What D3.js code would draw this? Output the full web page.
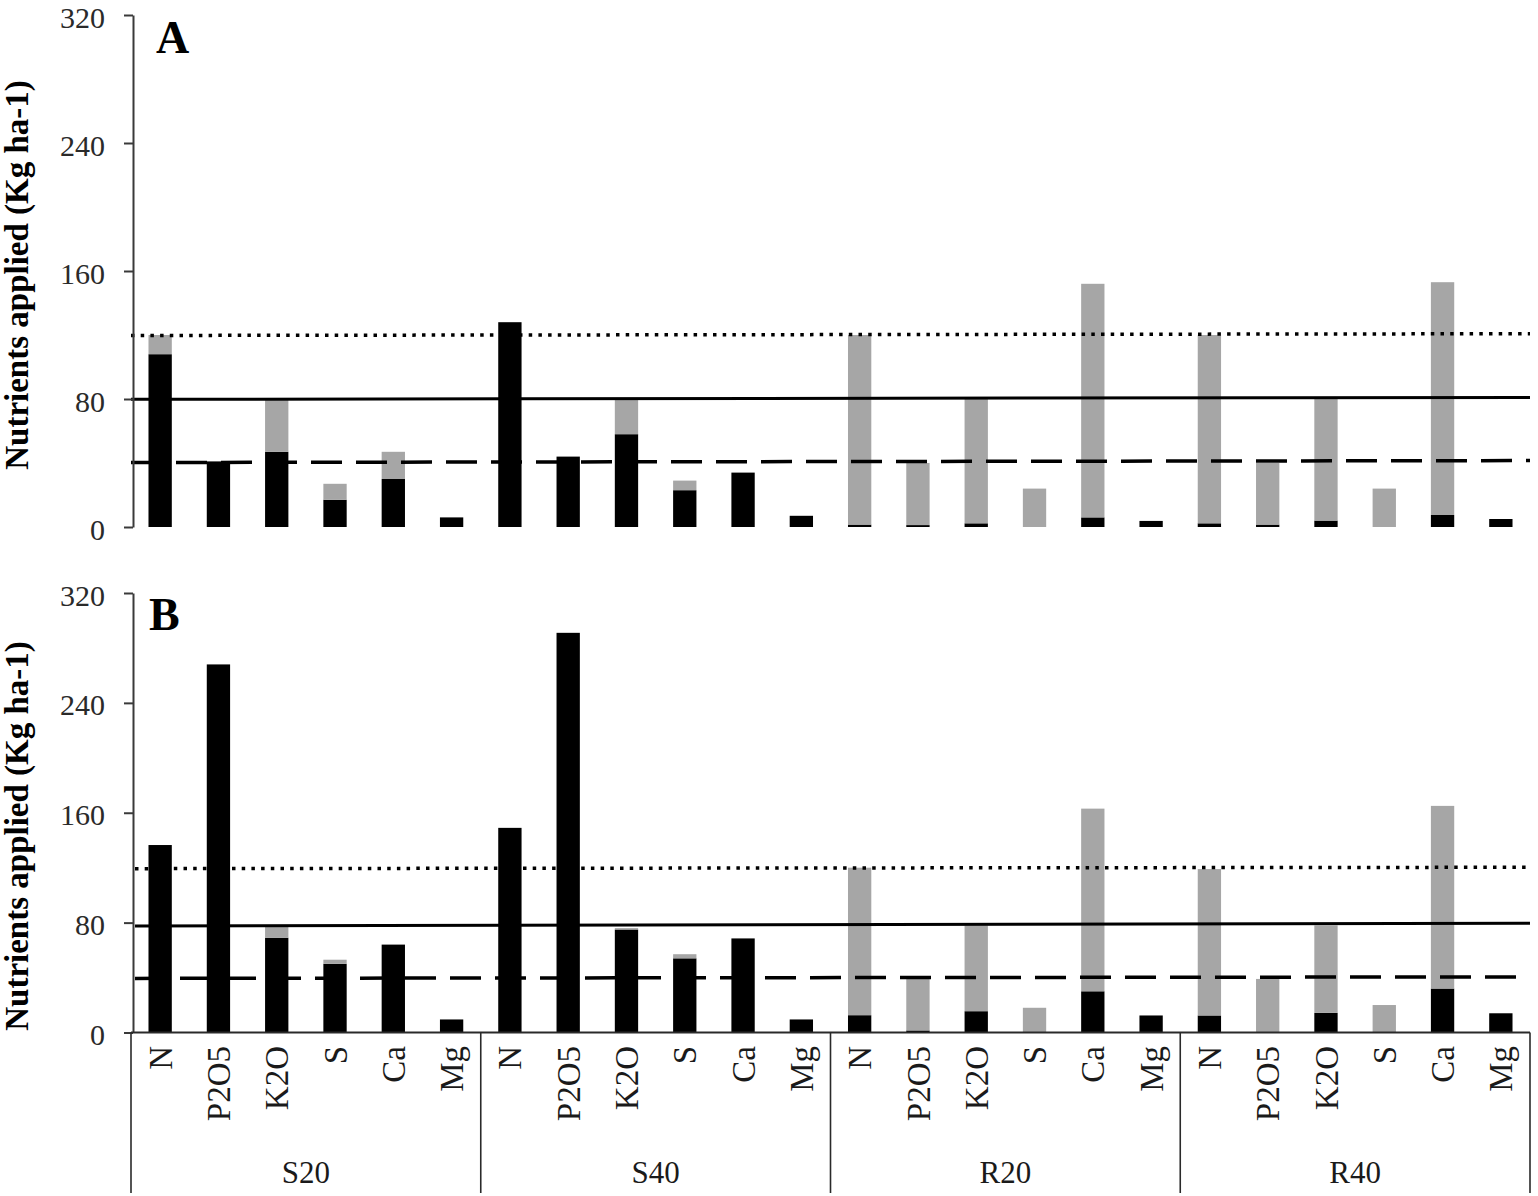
<!DOCTYPE html>
<html>
<head>
<meta charset="utf-8">
<script src="https://cdn.jsdelivr.net/npm/d3@7"></script>
<style>
  html, body { margin: 0; padding: 0; background: #fff; }
  svg { display: block; }
  text { font-family: "Liberation Serif", "Times New Roman", serif; }
</style>
</head>
<body>
<svg id="chart" width="1538" height="1196"></svg>
<script>
// ---------------- DATA ----------------
const groups = ["S20", "S40", "R20", "R40"];
const nutrients = ["N", "P2O5", "K2O", "S", "Ca", "Mg"];
const yTicks = [0, 80, 160, 240, 320];

// Panel A: black (lower) segment and total height (black + gray), per group in order N,P2O5,K2O,S,Ca,Mg
const blackA = {
  S20: [108, 41, 47, 17, 30, 6],
  S40: [128, 44, 58, 23, 34, 7],
  R20: [1.5, 1.2, 2.3, 0, 6, 3.8],
  R40: [2.3, 1.5, 4, 0, 7.5, 5]
};
const totalA = {
  S20: [120, 41, 80, 27, 47, 6],
  S40: [128, 44, 80, 29, 34, 7],
  R20: [120, 40, 80, 24, 152, 3.8],
  R40: [120, 40, 80, 24, 153, 5]
};
// Panel B
const blackB = {
  S20: [136.5, 268, 69, 50, 64, 9.5],
  S40: [149, 291, 75, 54, 68.5, 9.5],
  R20: [12.6, 1.5, 15.5, 0, 30, 12.4],
  R40: [12.4, 0, 14.3, 0, 32, 14]
};
const totalB = {
  S20: [136.5, 268, 78, 53, 64, 9.5],
  S40: [149, 291, 76, 57, 68.5, 9.5],
  R20: [120, 39, 78, 18, 163, 12.4],
  R40: [119, 39, 78, 20, 165, 14]
};
// Reference lines (value at left end, value at right end)
const refStyles = ["dotted", "solid", "dashed"];
const refA = [[119.7, 120.8], [79.8, 81], [40.3, 41.5]];
const refB = [[119.3, 120.3], [77.5, 79.6], [39.4, 40.5]];
const yTitle = "Nutrients applied (Kg ha-1)";

// ---------------- CHART ----------------
const svg = d3.select("#chart");
const keys = [];
groups.forEach(g => nutrients.forEach(n => keys.push(g + "|" + n)));

const x = d3.scaleBand().domain(keys).range([131, 1530]).paddingInner(0.6).paddingOuter(0.3);
const xGroup = d3.scaleBand().domain(groups).range([131, 1530]);

function rows(black, total) {
  const out = [];
  groups.forEach(g => nutrients.forEach((n, i) => {
    out.push({ key: g + "|" + n, base: black[g][i], extra: Math.max(0, total[g][i] - black[g][i]) });
  }));
  return out;
}

const dashFor = {
  dotted: "3.5,6.2",
  solid: null,
  dashed: "31,14"
};

function panel(cfg) {
  const y = d3.scaleLinear().domain([0, 320]).range(cfg.yRange);
  const g = svg.append("g");

  const stacked = d3.stack().keys(["base", "extra"])(rows(cfg.black, cfg.total));
  const colors = { base: "#000000", extra: "#a6a6a6" };
  g.selectAll("g.layer").data(stacked).join("g")
    .attr("class", "layer")
    .attr("fill", d => colors[d.key])
    .selectAll("rect").data(d => d).join("rect")
    .attr("x", d => x(d.data.key))
    .attr("width", x.bandwidth())
    .attr("y", d => y(d[1]))
    .attr("height", d => Math.max(0, y(d[0]) - y(d[1])));

  // reference lines
  cfg.refs.forEach((r, i) => {
    const style = refStyles[i];
    g.append("line")
      .attr("x1", cfg.refX0).attr("x2", 1530)
      .attr("y1", y(r[0])).attr("y2", y(r[1]))
      .attr("stroke", "#000")
      .attr("stroke-width", style === "solid" ? 3 : 3.5)
      .attr("stroke-dasharray", dashFor[style]);
  });

  // y axis
  const ax = g.append("g").attr("transform", "translate(133,0)")
    .call(d3.axisLeft(y).tickValues(yTicks).tickSize(9).tickSizeOuter(0).tickPadding(19));
  ax.select(".domain").attr("stroke", "#3a3a3a").attr("stroke-width", 2);
  ax.selectAll(".tick line").attr("stroke", "#3a3a3a").attr("stroke-width", 2);
  ax.selectAll(".tick text").attr("font-size", 30).attr("fill", "#2a2a2a")
    .attr("dy", "0.4em")
    .attr("font-family", "Liberation Serif, serif");

  // title
  g.append("text")
    .attr("transform", `translate(28,${cfg.titleY}) rotate(-90)`)
    .attr("text-anchor", "middle")
    .attr("font-weight", "bold")
    .attr("font-size", 33)
    .attr("fill", "#000")
    .text(yTitle);

  // panel letter
  g.append("text")
    .attr("x", cfg.letterX).attr("y", cfg.letterY)
    .attr("font-weight", "bold").attr("font-size", 46).attr("fill", "#000")
    .text(cfg.letter);
  return y;
}

panel({ black: blackA, total: totalA, refs: refA, yRange: [527, 15], letter: "A", letterX: 156, letterY: 53, refX0: 131, titleY: 275 });
const yB = panel({ black: blackB, total: totalB, refs: refB, yRange: [1032.5, 593], letter: "B", letterX: 149, letterY: 630, refX0: 135, titleY: 836 });

// Panel B category axis (table-like)
const base = yB(0);
const axisG = svg.append("g");
axisG.append("line")
  .attr("x1", 131).attr("x2", 1530).attr("y1", base).attr("y2", base)
  .attr("stroke", "#2a2a2a").attr("stroke-width", 2);
const seps = groups.map(g => xGroup(g)).concat([xGroup(groups[groups.length - 1]) + xGroup.bandwidth()]);
axisG.selectAll("line.sep").data(seps).join("line")
  .attr("class", "sep")
  .attr("x1", d => d).attr("x2", d => d)
  .attr("y1", base).attr("y2", 1193)
  .attr("stroke", "#2a2a2a").attr("stroke-width", 1.6);

axisG.selectAll("text.cat").data(keys).join("text")
  .attr("class", "cat")
  .attr("transform", d => `translate(${x(d) + x.bandwidth() / 2},1046) rotate(-90)`)
  .attr("text-anchor", "end")
  .attr("dy", "0.35em")
  .attr("font-size", 33)
  .attr("fill", "#1a1a1a")
  .text(d => d.split("|")[1]);

axisG.selectAll("text.grp").data(groups).join("text")
  .attr("class", "grp")
  .attr("x", d => xGroup(d) + xGroup.bandwidth() / 2)
  .attr("y", 1183)
  .attr("text-anchor", "middle")
  .attr("font-size", 31)
  .attr("fill", "#1a1a1a")
  .text(d => d);
</script>
</body>
</html>
